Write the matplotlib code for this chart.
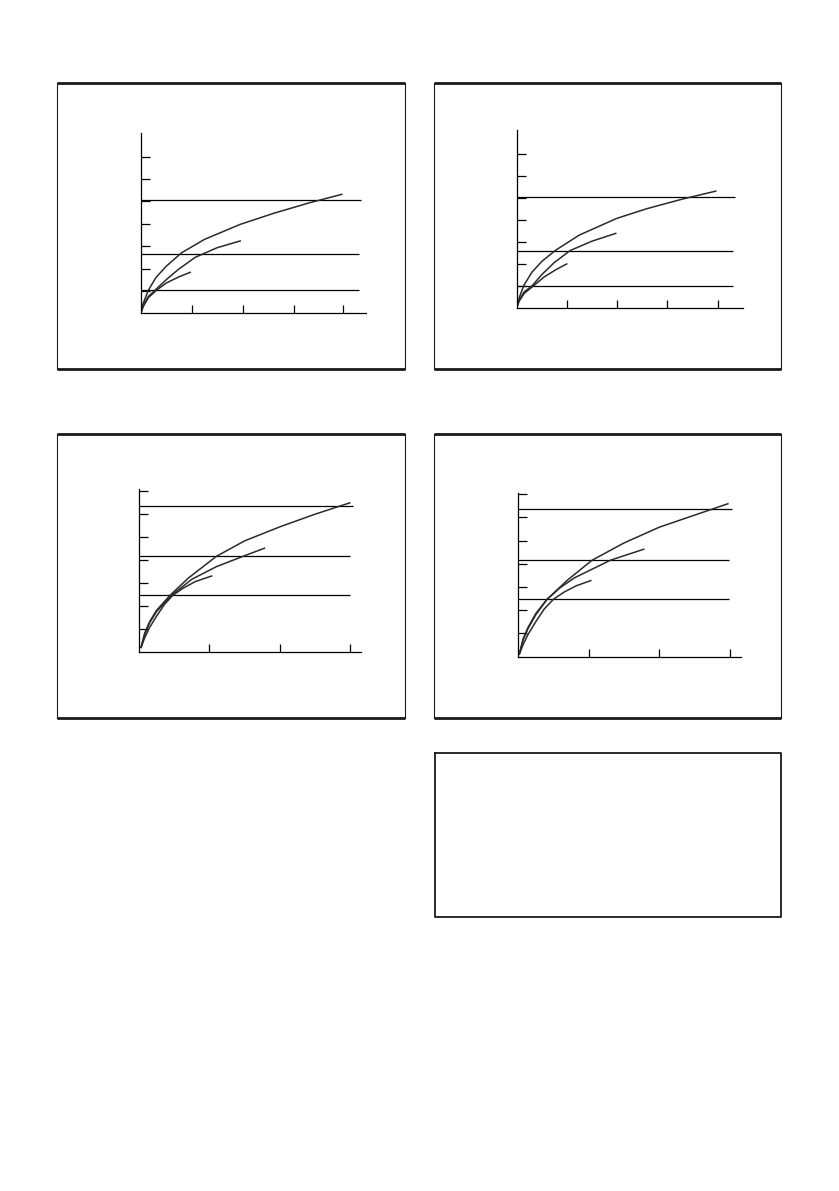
import matplotlib
matplotlib.use("Agg")
import matplotlib.pyplot as plt

W, H = 839, 1191

# --- data ----------------------------------------------------------------
# top-left chart
tl_c1_x = [0, 0.05, 0.15, 0.3, 0.5, 0.8, 1.25, 1.95, 2.6, 3.3, 3.94]
tl_c1_y = [0, 0.45, 1.03, 1.6, 2.1, 2.7, 3.3, 3.97, 4.46, 4.93, 5.31]
tl_c2_x = [0, 0.05, 0.15, 0.28, 0.5, 0.75, 1.07, 1.5, 1.95]
tl_c2_y = [0, 0.35, 0.75, 1.03, 1.5, 1.98, 2.5, 2.93, 3.23]
tl_c3_x = [0, 0.05, 0.15, 0.31, 0.5, 0.75, 0.97]
tl_c3_y = [0, 0.3, 0.7, 1.03, 1.35, 1.63, 1.83]
tl_levels = [5.05, 2.63, 1.03]
tl_level_end = [4.32, 4.28, 4.28]

# top-right chart
tr_c1_x = [0, 0.05, 0.14, 0.3, 0.5, 0.77, 1.25, 2.0, 2.6, 3.3, 3.98]
tr_c1_y = [0, 0.45, 1.0, 1.6, 2.1, 2.6, 3.3, 4.06, 4.5, 4.93, 5.30]
tr_c2_x = [0, 0.05, 0.15, 0.31, 0.5, 0.75, 1.07, 1.5, 1.98]
tr_c2_y = [0, 0.35, 0.72, 1.0, 1.5, 2.05, 2.6, 3.02, 3.38]
tr_c3_x = [0, 0.05, 0.15, 0.34, 0.55, 0.8, 1.0]
tr_c3_y = [0, 0.3, 0.65, 1.0, 1.4, 1.75, 1.99]
tr_levels = [5.05, 2.6, 1.0]
tr_level_end = [4.36, 4.32, 4.32]

# bottom-left chart
bl_c1_x = [0.03, 0.08, 0.15, 0.25, 0.44, 0.7, 1.1, 1.5, 2.0, 2.5, 2.99]
bl_c1_y = [0.19, 0.8, 1.3, 1.8, 2.45, 3.2, 4.15, 4.82, 5.43, 5.98, 6.47]
bl_c2_x = [0.03, 0.08, 0.15, 0.25, 0.46, 0.75, 1.1, 1.48, 1.78]
bl_c2_y = [0.19, 0.75, 1.25, 1.75, 2.45, 3.15, 3.7, 4.15, 4.5]
bl_c3_x = [0.03, 0.08, 0.15, 0.25, 0.36, 0.48, 0.62, 0.8, 1.03]
bl_c3_y = [0.19, 0.6, 1.05, 1.55, 2.05, 2.45, 2.75, 3.05, 3.29]
bl_levels = [6.32, 4.15, 2.45]
bl_level_end = [3.03, 2.99, 2.99]

# bottom-right chart
br_c1_x = [0.02, 0.07, 0.14, 0.25, 0.41, 0.7, 1.05, 1.5, 2.0, 2.5, 2.97]
br_c1_y = [0.12, 0.75, 1.25, 1.85, 2.47, 3.3, 4.16, 4.9, 5.58, 6.1, 6.59]
br_c2_x = [0.02, 0.07, 0.14, 0.25, 0.41, 0.6, 0.8, 1.31, 1.78]
br_c2_y = [0.12, 0.7, 1.2, 1.8, 2.47, 2.98, 3.4, 4.16, 4.63]
br_c3_x = [0.02, 0.07, 0.14, 0.25, 0.37, 0.5, 0.65, 0.82, 1.03]
br_c3_y = [0.12, 0.5, 0.95, 1.5, 2.05, 2.47, 2.78, 3.05, 3.28]
br_levels = [6.35, 4.16, 2.47]
br_level_end = [3.03, 2.99, 2.99]

tl_xticks = [1, 2, 3, 3.97]
tr_xticks = [1, 2, 3, 4.02]
bl_xticks = [1, 2, 2.99]
br_xticks = [1, 2, 3.0]
yticks_top = [1, 2, 3, 4, 5, 6, 7]
yticks_bot = [1, 2, 3, 4, 5, 6, 7]


def px_axes(fig, left, top, right, bottom):
    return fig.add_axes([left / W, 1 - bottom / H, (right - left) / W, (bottom - top) / H])


def chart(fig, box, xlim, ylim, xticks, yticks, curves, levels, level_end):
    ax = px_axes(fig, *box)
    ax.set_xlim(0, xlim)
    ax.set_ylim(0, ylim)
    ax.patch.set_alpha(0)
    for s in ["top", "right"]:
        ax.spines[s].set_visible(False)
    for s in ["left", "bottom"]:
        ax.spines[s].set_linewidth(0.9)
    ax.set_xticks(xticks)
    ax.set_yticks(yticks)
    ax.tick_params(axis="x", direction="in", length=6, width=0.9, labelbottom=False)
    ax.tick_params(axis="y", direction="in", length=6.5, width=0.9, labelleft=False)
    for y, xe in zip(levels, level_end):
        ax.plot([0, xe], [y, y], color="black", lw=0.9, solid_capstyle="butt")
    for cx, cy in curves:
        ax.plot(cx, cy, color="#2a2a2a", lw=1.1, solid_joinstyle="round")
    return ax


fig = plt.figure(figsize=(W / 100, H / 100), dpi=100)

# page frames
bg = fig.add_axes([0, 0, 1, 1])
bg.set_xlim(0, W)
bg.set_ylim(H, 0)
bg.axis("off")
panels = [(57, 82.5, 405, 368.5), (434, 82.5, 781, 368.5),
          (57, 433.5, 405, 718), (434, 433.5, 781, 718)]
for x0, y0, x1, y1 in panels:
    bg.plot([x0, x1], [y0, y0], color="#1a1a1a", lw=2.0, solid_capstyle="butt")
    bg.plot([x0, x1], [y1, y1], color="#1a1a1a", lw=2.0, solid_capstyle="butt")
    bg.plot([x0, x0], [y0, y1], color="#1a1a1a", lw=0.8)
    bg.plot([x1, x1], [y0, y1], color="#1a1a1a", lw=0.8)
bg.plot([435, 781, 781, 435, 435], [753, 753, 917, 917, 753], color="#1a1a1a", lw=1.3)

chart(fig, (140.7, 133, 365.7, 313.3), 4.41, 8.05, tl_xticks, yticks_top,
      [(tl_c1_x, tl_c1_y), (tl_c2_x, tl_c2_y), (tl_c3_x, tl_c3_y)], tl_levels, tl_level_end)
chart(fig, (516.7, 130, 742.7, 307.7), 4.52, 8.08, tr_xticks, yticks_top,
      [(tr_c1_x, tr_c1_y), (tr_c2_x, tr_c2_y), (tr_c3_x, tr_c3_y)], tr_levels, tr_level_end)
chart(fig, (139, 489.3, 361, 651.7), 3.15, 7.06, bl_xticks, yticks_bot,
      [(bl_c1_x, bl_c1_y), (bl_c2_x, bl_c2_y), (bl_c3_x, bl_c3_y)], bl_levels, bl_level_end)
chart(fig, (518, 493.3, 741.3, 656.7), 3.16, 7.04, br_xticks, yticks_bot,
      [(br_c1_x, br_c1_y), (br_c2_x, br_c2_y), (br_c3_x, br_c3_y)], br_levels, br_level_end)

fig.savefig("out.png", dpi=100)
